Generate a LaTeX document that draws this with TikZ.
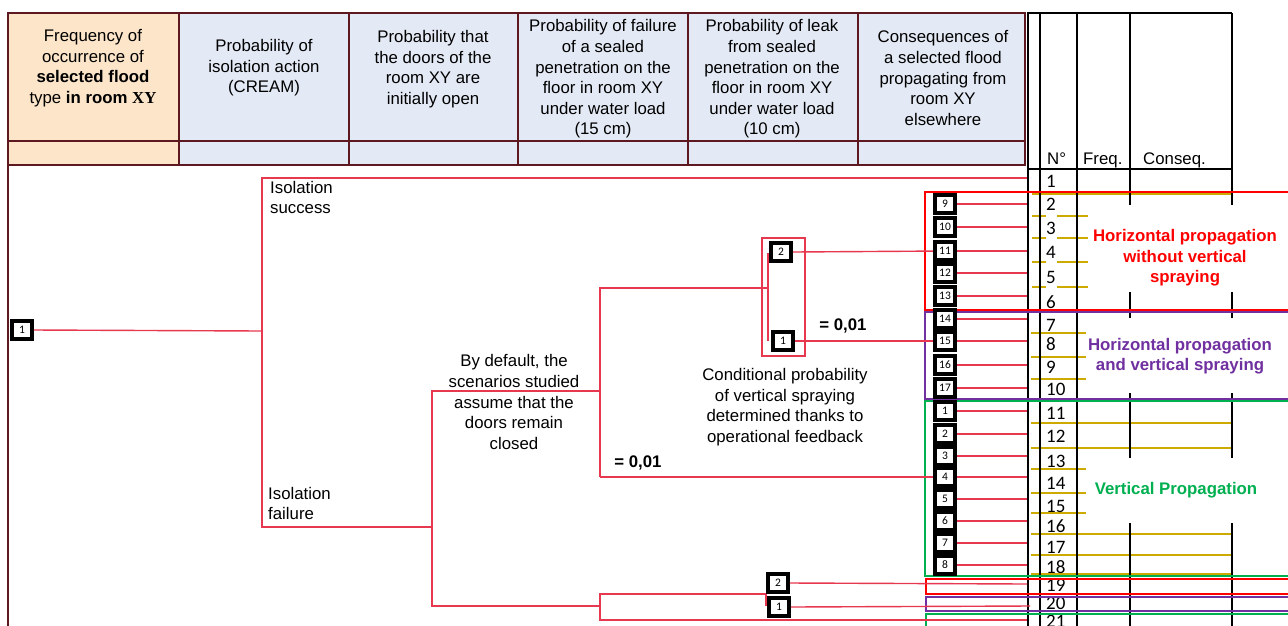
\documentclass[tikz,border=0pt]{standalone}
\usepackage{fontspec}
\setmainfont{Liberation Sans}
\newfontfamily\calib{Carlito}
\newfontfamily\tms{Liberation Serif}
\definecolor{maroon}{RGB}{94,24,32}
\definecolor{peach}{RGB}{252,229,200}
\definecolor{lblue}{RGB}{228,234,245}
\definecolor{tred}{RGB}{232,56,79}
\definecolor{gred}{RGB}{255,0,0}
\definecolor{gpurple}{RGB}{112,48,160}
\definecolor{ggreen}{RGB}{0,176,80}
\definecolor{goldc}{RGB}{204,170,0}
\begin{document}
\begin{tikzpicture}[x=1pt,y=-1pt,
  hdr/.style={draw=maroon,line width=2.8pt,fill=lblue},
  ev/.style={draw=black,line width=3.6pt,fill=white,minimum width=20pt,minimum height=17.5pt,inner sep=0pt,font=\calib\fontsize{11.5}{11.5}\selectfont},
  tr/.style={draw=tred,line width=1.4pt},
  htxt/.style={align=center,inner sep=0pt,font=\fontsize{16.8}{20.6}\selectfont},
  ttxt/.style={inner sep=0pt,font=\fontsize{16.8}{20.6}\selectfont},
  num/.style={anchor=west,inner sep=0pt,font=\calib\fontsize{19}{19}\selectfont},
  gold/.style={draw=goldc,line width=1.6pt},
  grid/.style={draw=black,line width=2.8pt},
  grp/.style={line width=2.6pt},
  glab/.style={align=center,inner sep=0pt,font=\bfseries\fontsize{16.8}{20.6}\selectfont}]
\useasboundingbox (0,0) rectangle (1288,625);
\fill[white] (0,0) rectangle (1288,625);

% ---------- header ----------
\draw[hdr,fill=peach] (8,13) rectangle (179,141);
\draw[hdr,fill=peach] (8,141) rectangle (179,165);
\foreach \a/\b in {179/349,349/518,518/688,688/858,858/1025}{
  \draw[hdr] (\a,13) rectangle (\b,141);
  \draw[hdr] (\a,141) rectangle (\b,165);
}
\draw[draw=maroon,line width=2.8pt] (8,165) -- (8,627);

\node[htxt] (h1) at (93,68) {Frequency of\\occurrence of\\\textbf{selected flood}\\type \textbf{in room {\tms XY}}};
\node[htxt] (h2) at (264,68) {Probability of\\isolation action\\(CREAM)};
\node[htxt] (h3) at (433,69) {Probability that\\the doors of the\\room XY are\\initially open};
\node[htxt] (h4) at (603,79) {Probability of failure\\of a sealed\\penetration on the\\floor in room XY\\under water load\\(15 cm)};
\node[htxt] (h5) at (772,79) {Probability of leak\\from sealed\\penetration on the\\floor in room XY\\under water load\\(10 cm)};
\node[htxt] (h6) at (943,78) {Consequences of\\a selected flood\\propagating from\\room XY\\elsewhere};

% ---------- gold row lines ----------
\draw[gold] (1032,194) -- (1233,194);
\foreach \y in {216,238,262,287}{
  \draw[gold] (1032,\y) -- (1046,\y);
  \draw[gold] (1057,\y) -- (1088,\y);
}
\foreach \y in {333,357,379,469,493,513}{ \draw[gold] (1031,\y) -- (1086,\y); }
\foreach \y in {423,448,534,555,574}{ \draw[gold] (1031,\y) -- (1232,\y); }

% ---------- black grid ----------
\draw[grid] (1027,13) -- (1232,13);
\draw[grid] (1028,13) -- (1028,627);
\draw[grid] (1040,13) -- (1040,627);
\draw[grid] (1077,13) -- (1077,627);
\foreach \x in {1130,1232}{
  \draw[grid] (\x,13) -- (\x,205);
  \draw[grid] (\x,292) -- (\x,318);
  \draw[grid] (\x,393) -- (\x,458);
  \draw[grid] (\x,523) -- (\x,627);
}
\draw[draw=black,line width=1.3pt] (1029,169) -- (1232,169);
\node[ttxt,anchor=base west] (hn) at (1047,164) {N°};
\node[ttxt,anchor=base west] (hf) at (1083,164) {Freq.};
\node[ttxt,anchor=base west] (hc) at (1143,164) {Conseq.};

% ---------- row numbers ----------
\foreach \n/\y in {1/181,2/204,3/228,4/252,5/277,6/302,7/325,8/344,9/367,10/389,11/413,12/436,13/461,14/483,15/506,16/526,17/547,18/567,19/585,20/603,21/621}{
  \node[num] (r\n) at (1046,\y) {\n};
}

% ---------- group boxes ----------
\draw[grp,draw=gred] (925,192) rectangle (1300,310);
\draw[grp,draw=gpurple] (925,312) rectangle (1300,399);
\draw[grp,draw=ggreen] (925,401) rectangle (1300,576);
\draw[grp,draw=gred] (926,579) rectangle (1300,594);
\draw[grp,draw=gpurple] (926,597) rectangle (1300,611);
\draw[grp,draw=ggreen] (926,614) rectangle (1300,650);

\node[glab,text=gred] (gl1) at (1185,258) {Horizontal propagation\\without vertical\\spraying};
\node[glab,text=gpurple] (gl2) at (1180,356) {Horizontal propagation\\and vertical spraying};
\node[glab,text=ggreen] (gl3) at (1176,490) {Vertical Propagation};

% ---------- tree ----------
\node[ev] (e0) at (22,330) {1};
\coordinate (a0) at (262,331);
\coordinate (s1) at (262,178);
\coordinate (s2) at (262,527);
\coordinate (t0) at (1027,178);
\draw[tr] (e0.east) -- (a0);
\draw[tr] (t0) -- (s1) -- (s2) -- (432,527);
\coordinate (f1) at (432,391);
\coordinate (f2) at (432,606);
\draw[tr] (600,391) -- (f1) -- (f2) -- (600,606);
\coordinate (g1) at (600,288);
\coordinate (g2) at (600,477);
\draw[tr] (768,288) -- (g1) -- (g2);

\node[ttxt,align=left,anchor=north west] (iso1) at (270,181) {Isolation\\success};
\node[ttxt,align=left,anchor=north west] (iso2) at (268,487) {Isolation\\failure};
\node[htxt] (bd) at (514,402) {By default, the\\scenarios studied\\assume that the\\doors remain\\closed};
\node[ttxt,font=\bfseries\fontsize{16.8}{20}\selectfont] (p1) at (638,463) {= 0,01};
\node[ttxt,font=\bfseries\fontsize{16.8}{20}\selectfont] (p2) at (843,326) {= 0,01};
\node[htxt] (cp) at (785,407) {Conditional probability\\of vertical spraying\\determined thanks to\\operational feedback};

% bracket
\draw[draw=tred,line width=2.4pt] (762,238) rectangle (805,356);
\draw[tr] (768,253) -- (768,341);
\node[ev] (b2) at (781,252) {2};
\node[ev] (b1) at (783,341) {1};

% lower branch
\coordinate (k1) at (600,594);
\coordinate (k2) at (600,620);
\coordinate (k3) at (766,594);
\draw[tr] (766,606) -- (k3) -- (k1) -- (k2) -- (1027,620);
\node[ev] (c2) at (778,583) {2};
\node[ev] (c1) at (779,607) {1};
\coordinate (t19) at (1027,584);
\coordinate (t20) at (1030,606);
\draw[tr] (c2.east) -- (t19);
\draw[tr] (c1.east) -- (t20);

% consequence boxes
\foreach \l/\y in {9/204,10/227,11/251,12/273,13/296,14/319,15/341,16/365,17/388,1/411,2/434,3/456,4/477,5/499,6/521,7/543,8/565}{
  \coordinate (t\l) at (1027,\y);
  \draw[tr] (945,\y) -- (t\l);
}
\draw[tr] (b2.east) -- (945,251);
\draw[tr] (b1.east) -- (945,341);
\draw[tr] (g2) -- (945,477);
\foreach \l/\y in {9/204,10/227,11/251,12/273,13/296,14/319,15/341,16/365,17/388,1/411,2/434,3/456,4/477,5/499,6/521,7/543,8/565}{
  \node[ev] (u\l) at (945,\y) {\l};
}
\end{tikzpicture}
\end{document}
